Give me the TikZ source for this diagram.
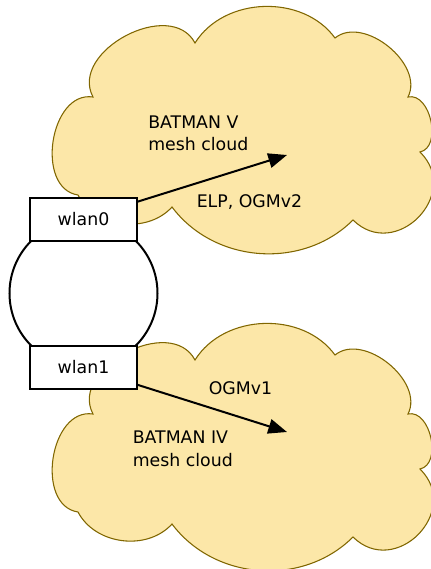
\documentclass[tikz,border=0pt]{standalone}
\usepackage{fontspec}
\setmainfont{DejaVu Sans}
\usetikzlibrary{arrows.meta,positioning}

\definecolor{cloudfill}{RGB}{252,231,168}
\definecolor{cloudedge}{RGB}{128,102,0}

\tikzset{
  meshcloud/.pic={
    \draw[draw=cloudedge,fill=cloudfill,line width=0.8pt]
      (195,-43) to[bend left=56] (335,-38)
      to[bend left=78] (408,-97)
      to[bend left=90,looseness=1.05] (420,-152)
      to[bend left=90,looseness=1.6] (353,-220)
      to[bend left=49] (172,-207)
      to[bend left=55] (78,-195)
      to[bend left=90,looseness=1.13] (93,-97)
      to[bend left=90,looseness=1.15] (195,-43) -- cycle;
  }
}

\begin{document}
\begin{tikzpicture}[x=0.75pt,y=0.75pt,>={Triangle[length=14pt,width=11pt]},
  font=\fontsize{13}{16.8}\selectfont,
  iface/.style={draw,fill=white,line width=1.5pt,minimum width=80pt,minimum height=32pt,inner sep=0pt,outer sep=0pt},
  radio/.style={draw,circle,line width=1.5pt,minimum size=111pt,inner sep=0pt,outer sep=0pt},
  cloudtext/.style={anchor=north west,align=left,inner sep=0pt}]
  \useasboundingbox (0,0) rectangle (431,-569);
  \pic at (0,0) {meshcloud};
  \pic at (0,-317) {meshcloud};

  \node[cloudtext] (v5text) at (148,-115.5) {BATMAN V\\mesh cloud};
  \node[cloudtext] (v4text) at (132.5,-431) {BATMAN IV\\mesh cloud};

  \node[radio] (air) at (83.5,-293.25) {};
  \node[iface] (wlan0) at (air.north) {wlan0};
  \node[iface] (wlan1) at (air.south) {wlan1};

  \coordinate (v5) at (287,-155);
  \coordinate (v4) at (287,-432);

  \path[->,line width=1.5pt] ([yshift=-3pt]wlan0.north east) edge node[pos=.75,below=20.5pt,inner sep=0pt] {ELP, OGMv2} (v5);
  \path[->,line width=1.5pt] ([yshift=3pt]wlan1.south east) edge node[pos=.69,above=16.5pt,inner sep=0pt] {OGMv1} (v4);
\end{tikzpicture}
\end{document}
